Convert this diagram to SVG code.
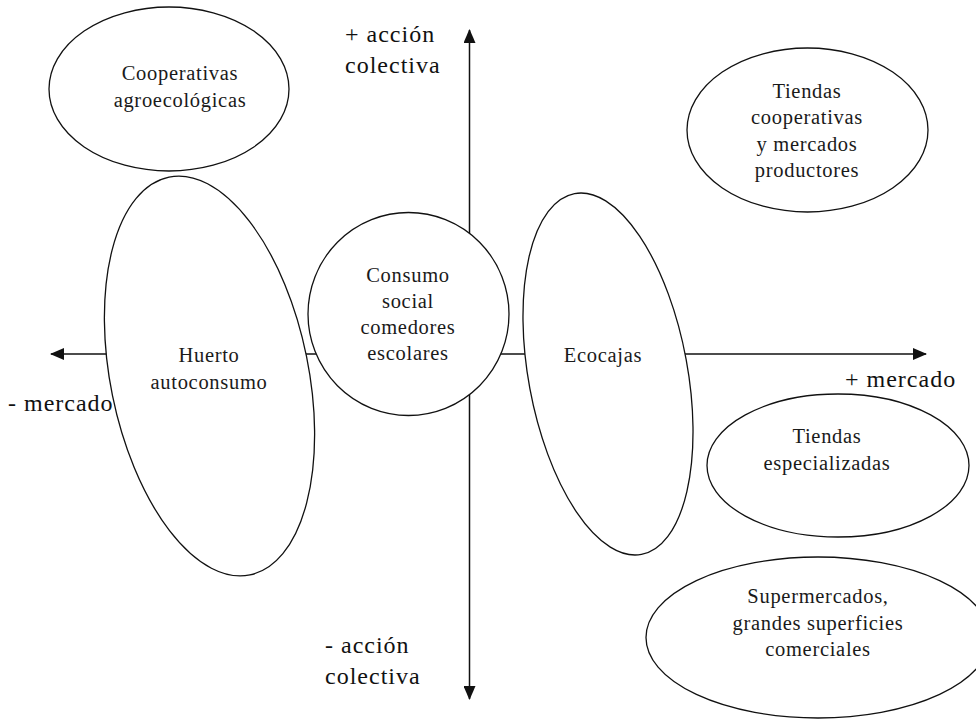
<svg xmlns="http://www.w3.org/2000/svg" width="976" height="720" viewBox="0 0 976 720">
<style>
  .node { fill: #ffffff; stroke: #111111; stroke-width: 1.3; }
  .axis { stroke: #111111; stroke-width: 1.5; fill: none; }
  .lbl { font-family: "Liberation Serif", "Times New Roman", serif; font-size: 20.5px; letter-spacing: 0.7px; text-anchor: middle; fill: #1a1a1a; }
  .ax { font-family: "Liberation Serif", "Times New Roman", serif; font-size: 24px; letter-spacing: 1px; fill: #111111; }
</style>
<defs>
  <marker id="arr" markerUnits="userSpaceOnUse" markerWidth="14" markerHeight="12" refX="13" refY="6" orient="auto-start-reverse">
    <path d="M0,0 L14,6 L0,12 z" fill="#111111"/>
  </marker>
</defs>
<rect width="976" height="720" fill="#ffffff"/>
<g id="connectors">
  <line class="axis" x1="51" y1="354" x2="926" y2="354" marker-start="url(#arr)" marker-end="url(#arr)"/>
  <line class="axis" x1="469.5" y1="30" x2="469.5" y2="699" marker-start="url(#arr)" marker-end="url(#arr)"/>
</g>
<g id="node-cooperativas">
  <ellipse class="node" cx="169" cy="89" rx="120" ry="82"/>
  <text class="lbl" x="180" y="80">Cooperativas</text>
  <text class="lbl" x="180" y="107">agroecológicas</text>
</g>
<g id="node-tiendas-coop">
  <ellipse class="node" cx="807.5" cy="130" rx="120.5" ry="82"/>
  <text class="lbl" x="807" y="98">Tiendas</text>
  <text class="lbl" x="807" y="124">cooperativas</text>
  <text class="lbl" x="807" y="151">y mercados</text>
  <text class="lbl" x="807" y="177">productores</text>
</g>
<g id="node-huerto">
  <ellipse class="node" cx="209.5" cy="376" rx="99" ry="203" transform="rotate(-11.5 209.5 376)"/>
  <text class="lbl" x="209" y="362">Huerto</text>
  <text class="lbl" x="209" y="389">autoconsumo</text>
</g>
<g id="node-consumo">
  <ellipse class="node" cx="408.5" cy="314" rx="100.5" ry="101.5"/>
  <text class="lbl" x="408" y="282">Consumo</text>
  <text class="lbl" x="408" y="308">social</text>
  <text class="lbl" x="408" y="334">comedores</text>
  <text class="lbl" x="408" y="360">escolares</text>
</g>
<g id="node-ecocajas">
  <ellipse class="node" cx="608" cy="374" rx="79.5" ry="183.5" transform="rotate(-10.5 608 374)"/>
  <text class="lbl" x="603" y="362">Ecocajas</text>
</g>
<g id="node-especializadas">
  <ellipse class="node" cx="838" cy="465.5" rx="131" ry="71.5"/>
  <text class="lbl" x="827" y="443">Tiendas</text>
  <text class="lbl" x="827" y="470">especializadas</text>
</g>
<g id="node-supermercados">
  <ellipse class="node" cx="818" cy="637.5" rx="172" ry="80.5"/>
  <text class="lbl" x="818" y="603">Supermercados,</text>
  <text class="lbl" x="818" y="630">grandes superficies</text>
  <text class="lbl" x="818" y="656">comerciales</text>
</g>
<g id="axis-labels">
  <text class="ax" x="345" y="42">+ acción</text>
  <text class="ax" x="345" y="73">colectiva</text>
  <text class="ax" x="325" y="653">- acción</text>
  <text class="ax" x="325" y="684">colectiva</text>
  <text class="ax" x="8" y="411">- mercado</text>
  <text class="ax" x="845" y="387">+ mercado</text>
</g>
</svg>
